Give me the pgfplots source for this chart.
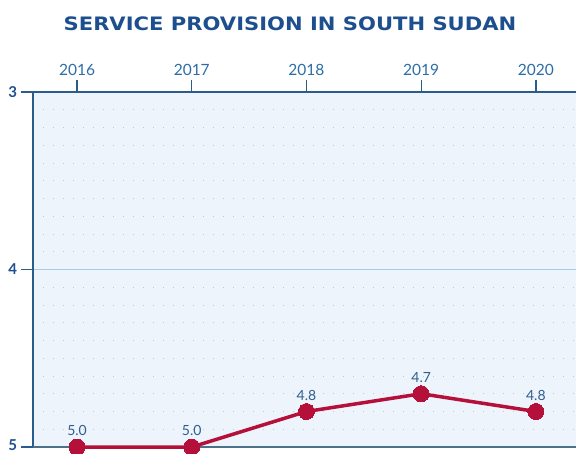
\documentclass[border=0pt]{standalone}
\usepackage{pgfplots}
\pgfplotsset{compat=1.18}
\usepackage{graphicx}
\usepackage{fontspec}
\setmainfont{Lato}
\newfontfamily\titlefont{DejaVu Sans}
\definecolor{titleblue}{HTML}{1D4F8F}
\definecolor{yearblue}{HTML}{2C6DA8}
\definecolor{labblue}{HTML}{2F5F8F}
\definecolor{axisblue}{HTML}{2A5D8C}
\definecolor{bgblue}{HTML}{EEF4FB}
\definecolor{gridblue}{HTML}{A9CBEA}
\definecolor{dotgray}{HTML}{BFC9D2}
\definecolor{bottomline}{HTML}{4D7189}
\definecolor{linered}{HTML}{B5103A}
\begin{document}
\begin{tikzpicture}[x=1pt,y=1pt]
\begin{axis}[
  at={(33pt,6pt)}, anchor=south west,
  scale only axis, width=560pt, height=355pt,
  xmin=2015.616, xmax=2020.498,
  ymin=3, ymax=5, y dir=reverse,
  clip=false,
  /pgf/number format/assume math mode=true,
  axis background/.style={fill=bgblue},
  axis line style={draw=axisblue, line width=1.3pt},
  xtick={2016,2017,2018,2019,2020},
  xticklabels={2016,2017,2018,2019,2020},
  xtick pos=upper, xticklabel pos=upper,
  ytick={3,4,5}, ytick pos=left,
  yticklabels={3,4,\raisebox{4.5pt}{5}},
  tick align=outside, major tick length=12.5pt,
  tick style={draw=axisblue, line width=1.3pt},
  minor y tick num=9, minor tick length=0pt,
  ymajorgrids, yminorgrids,
  major grid style={draw=gridblue, line width=1pt},
  minor grid style={draw=dotgray, line width=0.8pt, dash pattern=on 0.8pt off 9.2pt},
  xticklabel style={font=\fontsize{15.5}{18}\selectfont, text=yearblue},
  yticklabel style={font=\fontsize{15}{17}\selectfont\bfseries, text=titleblue},
  nodes near coords,
  nodes near coords style={font=\fontsize{14}{16}\selectfont, text=labblue, anchor=south, yshift=8pt,
    /pgf/number format/.cd, fixed, fixed zerofill, precision=1, assume math mode=true},
]
\draw[draw=bottomline, line width=2.5pt] (axis cs:2015.616,5) -- (axis cs:2020.498,5);
\addplot[color=linered, line width=3.5pt, mark=*, mark size=8pt,
  mark options={fill=linered, draw=linered, line width=0pt}]
  coordinates {(2016,5.0) (2017,5.0) (2018,4.8) (2019,4.7) (2020,4.8)};
\end{axis}
\node[font=\titlefont\fontsize{18.5}{21}\selectfont\bfseries, text=titleblue] at (290,429) {\scalebox{1.14}[1]{SERVICE PROVISION IN SOUTH SUDAN}};
\pgfresetboundingbox
\path[use as bounding box] (0,0) rectangle (576,453);
\end{tikzpicture}
\end{document}
